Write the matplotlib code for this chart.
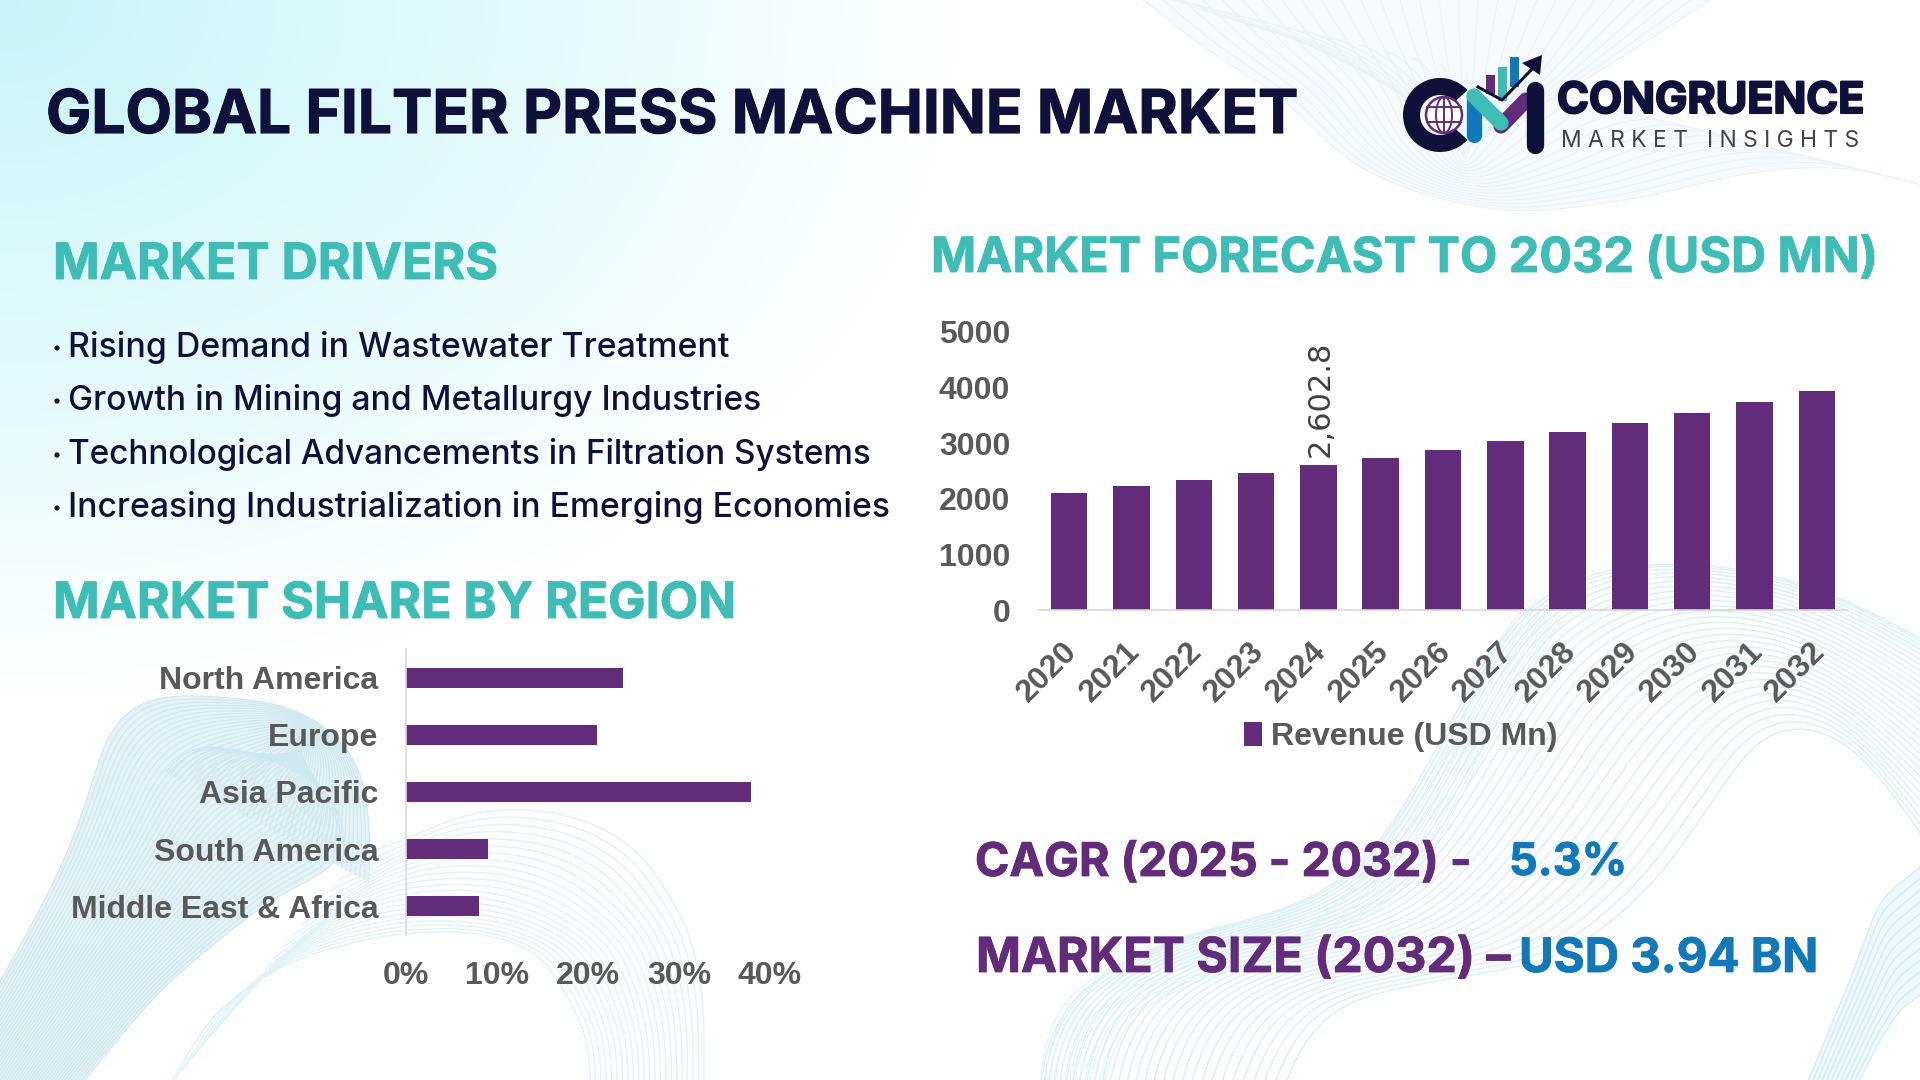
import numpy as np
import matplotlib
matplotlib.use("Agg")
import matplotlib.pyplot as plt
import matplotlib.patheffects as pe
from matplotlib.patches import Wedge, Circle, Polygon, Rectangle
from matplotlib.transforms import ScaledTranslation

years = ['2020', '2021', '2022', '2023', '2024', '2025', '2026', '2027', '2028', '2029', '2030', '2031', '2032']
revenue = [2104, 2230, 2338, 2464, 2602.8, 2734, 2878, 3040, 3201, 3363, 3543, 3741, 3940]
regions = ['North America', 'Europe', 'Asia Pacific', 'South America', 'Middle East & Africa']
shares = [23.9, 21.0, 37.9, 9.0, 8.0]
drivers = ['Rising Demand in Wastewater Treatment',
           'Growth in Mining and Metallurgy Industries',
           'Technological Advancements in Filtration Systems',
           'Increasing Industrialization in Emerging Economies']

NAVY = '#10113a'
TEAL = '#3dbdb5'
PURPLE = '#632c7a'
BLUE = '#1178b9'
GREY = '#595959'
HEAD = 'Inter'

fig = plt.figure(figsize=(19.2, 10.8), dpi=100)

# whole figure in pixels, y going down, for background, headings and logo
bg = fig.add_axes([0, 0, 1, 1], zorder=0)
bg.set_xlim(0, 1920)
bg.set_ylim(1080, 0)
bg.axis('off')

# cyan wash from the top left corner
yy, xx = np.mgrid[0:1080:4, 0:1920:4]
d = np.sqrt((xx / 960.0) ** 2 + (yy / 700.0) ** 2)
wash = np.clip(1 - d, 0, 1)
rgba = np.ones(xx.shape + (3,))
rgba[..., 0] = 1 - wash * 0.22
rgba[..., 1] = 1 - wash * 0.04
rgba[..., 2] = 1 - wash * 0.03
bg.imshow(rgba, extent=(0, 1920, 1080, 0), aspect='auto', zorder=0)
bg.set_xlim(0, 1920)
bg.set_ylim(1080, 0)


def smooth(pts, n=200):
    pts = np.array(pts, dtype=float)
    seg = np.r_[0, np.cumsum(np.hypot(*np.diff(pts, axis=0).T))]
    t = np.linspace(0, seg[-1], n)
    x = np.interp(t, seg, pts[:, 0])
    y = np.interp(t, seg, pts[:, 1])
    k = np.hanning(41)
    k = k / k.sum()
    x2 = np.convolve(np.r_[[x[0]] * 20, x, [x[-1]] * 20], k, mode='valid')
    y2 = np.convolve(np.r_[[y[0]] * 20, y, [y[-1]] * 20], k, mode='valid')
    return np.c_[x2, y2]


def fan(outer, inner, count, color, lw=1.0, fill=None, power=1.0):
    a = smooth(outer)
    b = smooth(inner)
    if fill:
        bg.add_patch(Polygon(np.r_[a, b[::-1]], closed=True, fc=fill, ec='none', zorder=1))
    for s in np.linspace(0, 1, count) ** power:
        c = (1 - s) * a + s * b
        bg.plot(c[:, 0], c[:, 1], color=color, lw=lw, zorder=2)


# bottom left lobe
fan([(-80, 1110), (0, 983), (61, 870), (92, 787), (110, 717), (153, 692), (294, 703), (361, 753), (373, 853), (367, 895)],
    [(60, 1110), (153, 997), (202, 953), (270, 900), (349, 860), (340, 800), (280, 760), (190, 740), (160, 780)],
    46, '#d0e8ef', lw=0.8, fill='#e4f2f6')
# bottom middle arcs
fan([(349, 860), (404, 840), (460, 815), (520, 807), (590, 820), (643, 853), (690, 930), (704, 1000), (704, 1100)],
    [(160, 1100), (215, 1010), (290, 960), (380, 935), (470, 930), (540, 950), (570, 1000), (590, 1040), (590, 1100)],
    22, '#e3f2f6', lw=1.0)
# bottom right fan, pale band along its edge then wide lines
fan([(1040, 1100), (1042, 1040), (1070, 988), (1174, 937), (1297, 909), (1358, 874), (1389, 833), (1438, 747),
     (1493, 643), (1542, 588), (1633, 560), (1756, 568), (1848, 598), (1940, 650)],
    [(1280, 1100), (1300, 1040), (1340, 1000), (1440, 980), (1560, 960), (1640, 900), (1680, 850), (1720, 790),
     (1760, 730), (1800, 720), (1850, 740), (1890, 790), (1940, 860)],
    30, '#dcf1f5', lw=1.1, power=1.3)
fan([(1040, 1100), (1042, 1040), (1070, 988), (1174, 937), (1297, 909), (1358, 874), (1389, 833), (1438, 747),
     (1493, 643), (1542, 588)],
    [(1100, 1100), (1110, 1050), (1140, 1005), (1240, 965), (1340, 935), (1400, 895), (1440, 840), (1480, 760),
     (1530, 670), (1570, 610)],
    14, '#e3f2f6', lw=0.8)
# crossing band, bottom right corner
fan([(1940, 850), (1880, 900), (1850, 980), (1800, 1100)],
    [(1940, 980), (1900, 1010), (1880, 1040), (1850, 1100)],
    12, '#d6ecf2', lw=0.9, fill='#eef7fa')
# top right lobe
fan([(1131, -10), (1205, 50), (1297, 105), (1327, 150), (1401, 190), (1511, 215), (1634, 200), (1756, 170),
     (1848, 165), (1940, 190)],
    [(1725, -10), (1634, 50), (1560, 95), (1500, 130), (1440, 120), (1380, 80), (1300, 40), (1200, 10), (1150, -10), (1131, -10)],
    30, '#ecf3f8', lw=0.8, fill='#f7fafc')

rend = fig.canvas.get_renderer()


def put(s, x0, x1, base, color, weight='bold', family=HEAD, stroke=0.0):
    t = bg.text(x0, base, s, color=color, fontweight=weight, family=family, fontsize=30,
                ha='left', va='baseline', zorder=5)
    w = t.get_window_extent(rend).width
    t.set_fontsize(30 * (x1 - x0) / w)
    if stroke:
        t.set_path_effects([pe.withStroke(linewidth=stroke, foreground=color)])
    return t


put('GLOBAL FILTER PRESS MACHINE MARKET', 46, 1298, 133, NAVY, stroke=0.8)
put('MARKET DRIVERS', 53, 498, 279, TEAL, stroke=0.6)
put('MARKET SHARE BY REGION', 53, 736, 618, TEAL, stroke=0.6)
put('MARKET FORECAST TO 2032 (USD MN)', 931, 1877, 272, TEAL, stroke=0.6)
put('CAGR (2025 - 2032) -', 975, 1471, 876, PURPLE, stroke=0.6)
put('5.3%', 1509, 1627, 875, BLUE, stroke=0.6)
put('MARKET SIZE (2032) –', 976, 1510, 972, PURPLE, stroke=0.6)
put('USD 3.94 BN', 1519, 1818, 972, BLUE, stroke=0.6)

driver_ends = [729, 760, 873, 889]
driver_bases = [357, 410, 464, 517]
for line, end, base in zip(drivers, driver_ends, driver_bases):
    put(line, 68, end, base, NAVY, weight='medium')
    bg.add_patch(Circle((57, base - 9), 2.6, fc=NAVY, ec='none', zorder=5))

# logo
bg.add_patch(Wedge((1440, 115), 37, 42, 318, width=17, fc=NAVY, ec='none', zorder=5))
bg.add_patch(Circle((1444, 115), 18, fc='white', ec=PURPLE, lw=1.8, zorder=5))
bg.plot([1427, 1461], [107, 107], color=PURPLE, lw=1.4, zorder=6)
bg.plot([1427, 1461], [122, 122], color=PURPLE, lw=1.4, zorder=6)
bg.plot([1444, 1444], [97, 133], color=PURPLE, lw=1.4, zorder=6)
theta = np.linspace(0, 2 * np.pi, 60)
bg.plot(1444 + 8 * np.cos(theta), 115 + 18 * np.sin(theta), color=PURPLE, lw=1.4, zorder=6)
bg.add_patch(Rectangle((1486, 75), 9, 19, fc=PURPLE, ec='none', zorder=5))
bg.add_patch(Rectangle((1498, 67), 9, 34, fc=TEAL, ec='none', zorder=5))
bg.add_patch(Rectangle((1510, 57), 9, 30, fc=BLUE, ec='none', zorder=5))
bg.plot([1474, 1474], [96, 135], color=BLUE, lw=11, solid_capstyle='round', zorder=6)
bg.plot([1501, 1526], [126, 100], color=PURPLE, lw=11, solid_capstyle='round', zorder=6)
bg.plot([1474, 1501], [96, 123], color=TEAL, lw=11, solid_capstyle='round', zorder=7)
bg.plot([1535, 1535], [90, 145], color=NAVY, lw=12.5, solid_capstyle='round', zorder=6)
bg.plot([1478, 1502, 1536], [87, 100, 65], color=NAVY, lw=2.2, zorder=8)
bg.add_patch(Polygon([(1522, 63), (1542, 55), (1540, 75)], closed=True, fc=NAVY, ec='none', zorder=8))
put('CONGRUENCE', 1557, 1864, 113, NAVY, stroke=1.5)
put('M A R K E T   I N S I G H T S', 1561, 1860, 147, '#444444', weight='normal')

# forecast bars
ax = fig.add_axes([1038 / 1920, 1 - 610 / 1080, 810 / 1920, 278 / 1080], zorder=3)
ax.patch.set_alpha(0)
bars = ax.bar(range(len(years)), revenue, width=0.585, color=PURPLE, label='Revenue (USD Mn)')
ax.set_xlim(-0.5, len(years) - 0.5)
ax.set_ylim(0, 5000)
ax.set_yticks([0, 1000, 2000, 3000, 4000, 5000])
ax.tick_params(axis='y', length=0, pad=20, labelsize=23, labelcolor=GREY)
ax.set_xticks(range(len(years)))
ax.set_xticklabels(years, rotation=45, ha='right', va='top', rotation_mode='anchor', fontsize=23, color=GREY)
ax.tick_params(axis='x', length=0, pad=19)
shift = ScaledTranslation(-7 / 100, 0, fig.dpi_scale_trans)
for lab in ax.get_xticklabels():
    lab.set_transform(lab.get_transform() + shift)
for lab in ax.get_xticklabels() + ax.get_yticklabels():
    lab.set_family('Liberation Sans')
    lab.set_fontweight('bold')
for s in ['top', 'left', 'right']:
    ax.spines[s].set_visible(False)
ax.spines['bottom'].set_color('#d9d9d9')
ax.spines['bottom'].set_linewidth(1.2)
ax.annotate(f'{revenue[4]:,.1f}', (4, revenue[4]), xytext=(1, 6), textcoords='offset points', rotation=90,
            ha='center', va='bottom', fontsize=22, color='#404040', family='DejaVu Sans')
leg = ax.legend(loc='center', bbox_to_anchor=(1401 / 1920, 1 - 737 / 1080), bbox_transform=fig.transFigure,
                frameon=False, handlelength=0.55, handleheight=0.75, handletextpad=0.3,
                prop={'family': 'Liberation Sans', 'weight': 'bold', 'size': 23})
leg.get_texts()[0].set_color(GREY)

# region share bars
ax2 = fig.add_axes([406 / 1920, 1 - 935 / 1080, 364 / 1920, 286 / 1080], zorder=3)
ax2.patch.set_alpha(0)
ax2.barh(range(len(regions)), shares, height=0.35, color=PURPLE)
ax2.set_ylim(len(regions) - 0.5, -0.5)
ax2.set_xlim(0, 40)
ax2.set_xticks([0, 10, 20, 30, 40])
ax2.set_xticklabels(['0%', '10%', '20%', '30%', '40%'])
ax2.set_yticks(range(len(regions)))
ax2.set_yticklabels(regions)
ax2.tick_params(axis='both', length=0, labelsize=23, labelcolor=GREY)
ax2.tick_params(axis='y', pad=20)
ax2.tick_params(axis='x', pad=19)
for lab in ax2.get_xticklabels() + ax2.get_yticklabels():
    lab.set_family('Liberation Sans')
    lab.set_fontweight('bold')
for s in ['top', 'bottom', 'right']:
    ax2.spines[s].set_visible(False)
ax2.spines['left'].set_color('#d9d9d9')
ax2.spines['left'].set_linewidth(1.2)

fig.savefig('out.png', dpi=100)
